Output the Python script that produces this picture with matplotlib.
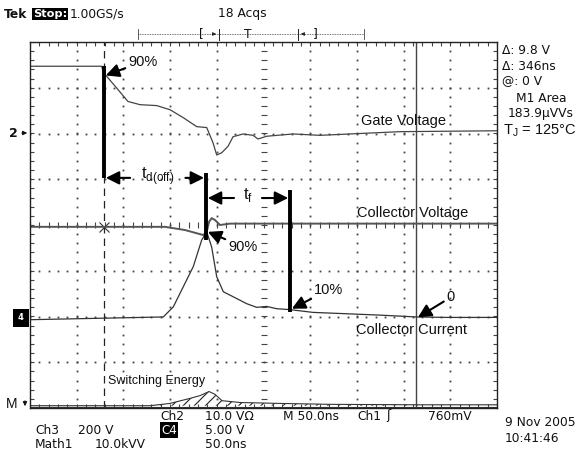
import numpy as np
import matplotlib
matplotlib.use("Agg")
import matplotlib.pyplot as plt

plt.rcParams['hatch.linewidth'] = 0.8

W, H = 577, 455

# ---- traces: time in ns (50 ns/div), level in divisions ----
gate_t = [0, 76.8, 78.2, 82.1, 94.2, 104.9, 117.8, 135.7, 149.9, 163.8, 178.5,
          189.2, 195.9, 199.9, 205.3, 212.0, 217.4, 228.1, 238.8, 244.1, 253.4,
          281.6, 310.5, 353.3, 396.2, 450.0, 500]
gate_v = [3.47, 3.47, 3.35, 3.25, 2.96, 2.70, 2.63, 2.61, 2.52, 2.35, 2.15,
          2.13, 1.80, 1.53, 1.58, 1.72, 1.93, 1.99, 1.96, 1.88, 1.94,
          1.99, 1.96, 2.00, 2.04, 2.05, 2.06]

vce_t = [0, 144.5, 166.0, 185.6, 189.2, 191.7, 194.5, 198.0, 203.4, 214.1, 500]
vce_v = [-0.04, -0.04, -0.11, -0.22, -0.15, 0.07, 0.15, 0.11, 0.0, 0.03, 0.03]

ic_t = [0, 142.7, 153.4, 164.1, 174.8, 183.8, 189.2, 194.5, 199.9, 207.0, 217.7,
        232.0, 242.7, 253.4, 264.1, 278.4, 303.0, 339.1, 374.7, 414.0, 446.2, 500]
ic_v = [-2.07, -2.01, -1.79, -1.35, -0.91, -0.33, -0.15, -0.48, -1.13, -1.46, -1.57,
        -1.72, -1.80, -1.78, -1.83, -1.85, -1.91, -1.94, -1.97, -2.01, -2.02, -2.02]

en_t = [0, 128.5, 149.9, 171.3, 182.0, 191.7, 198.0, 205.6, 224.8, 267.7, 321.2, 417.6, 500]
en_v = [-3.95, -3.95, -3.90, -3.79, -3.73, -3.64, -3.70, -3.84, -3.88, -3.90, -3.92, -3.93, -3.93]
en_base = -3.95

# cursors / measurement points (ns)
cursor_dash = 79.2
cursor_solid = 413.3
t_gate90 = 79.2
t_vce90 = 188.4
t_ic10 = 278.4


def fx(x):
    return x / W


def fy(y):
    return 1 - y / H


fig = plt.figure(figsize=(W / 100, H / 100), dpi=100)
ax = fig.add_axes([fx(30), fy(408), (497 - 30) / W, (408 - 42) / H])
ax.set_xlim(0, 500)
ax.set_ylim(-4, 4)
ax.set_xticks([])
ax.set_yticks([])
for s in ax.spines.values():
    s.set_linewidth(1.0)
    s.set_color('#222')

# ---- graticule ----
gc = '#444444'
ys = np.arange(-4, 4.01, 0.2)
xs = np.arange(0, 500.1, 10)
for k in range(1, 10):
    if k != 5:
        ax.plot(np.full_like(ys, 50 * k), ys, ls='none', marker='s', ms=1.3, color=gc, mew=0)
for k in range(-3, 4):
    if k != 0:
        ax.plot(xs, np.full_like(xs, k), ls='none', marker='s', ms=1.3, color=gc, mew=0)
ax.plot(xs, np.zeros_like(xs), ls='none', marker='|', ms=4, mew=0.8, color=gc)
ax.plot(np.full_like(ys, 250), ys, ls='none', marker='_', ms=4, mew=0.8, color=gc)
ax.plot(xs, np.full_like(xs, 4), ls='none', marker='|', ms=6, mew=0.8, color=gc)
ax.plot(xs, np.full_like(xs, -4), ls='none', marker='|', ms=6, mew=0.8, color=gc)
ax.plot(np.zeros_like(ys), ys, ls='none', marker='_', ms=6, mew=0.8, color=gc)
ax.plot(np.full_like(ys, 500), ys, ls='none', marker='_', ms=6, mew=0.8, color=gc)

# cursors
ax.axvline(cursor_dash, color='#222', lw=0.9, ls=(0, (6, 4)))
ax.axvline(cursor_solid, color='#444', lw=1.0)
ax.plot([cursor_dash], [-0.04], marker='x', ms=7, color='#333', mew=0.8)

# ---- traces ----
ax.plot(gate_t, gate_v, color='#444', lw=0.9)
ax.plot(vce_t, vce_v, color='#555', lw=1.4)
ax.plot(ic_t, ic_v, color='#333', lw=0.9)
ax.plot(en_t, en_v, color='#333', lw=0.8)
ax.axhline(en_base - 0.02, color='#333', lw=0.8)
en_t_a = np.array(en_t)
en_v_a = np.array(en_v)
ax.fill_between(en_t_a, en_base, en_v_a, where=(en_t_a > 125) & (en_t_a < 420),
                facecolor='none', edgecolor='#222', hatch='///', lw=0)

# ---- measurement markers ----
ax.plot([t_gate90, t_gate90], [3.48, 1.03], color='k', lw=2.8, solid_capstyle='butt')
ax.plot([t_vce90, t_vce90], [1.14, -0.33], color='k', lw=2.8, solid_capstyle='butt')
ax.plot([t_ic10, t_ic10], [0.77, -1.91], color='k', lw=2.8, solid_capstyle='butt')

arr = dict(arrowstyle='-|>', color='k', lw=1.5, mutation_scale=20, shrinkA=0, shrinkB=0)
lab = dict(family='Liberation Sans', fontsize=10.5, color='#111')

ax.annotate('', xy=(t_gate90 + 2, 1.03), xytext=(t_gate90 + 28, 1.03), arrowprops=arr)
ax.annotate('', xy=(t_vce90 - 2, 1.03), xytext=(t_vce90 - 22, 1.03), arrowprops=arr)
ax.text(137, 1.07, r't$_{\mathregular{d(off)}}$', ha='center', va='center',
        family='Liberation Sans', fontsize=12, color='#111')

ax.annotate('', xy=(t_vce90 + 2, 0.59), xytext=(t_vce90 + 30, 0.59), arrowprops=arr)
ax.annotate('', xy=(t_ic10 - 2, 0.59), xytext=(t_ic10 - 30, 0.59), arrowprops=arr)
ax.text(233, 0.66, r't$_{\mathregular{f}}$', ha='center', va='center',
        family='Liberation Sans', fontsize=12, color='#111')

ax.annotate('90%', xy=(t_gate90 + 2, 3.27), xytext=(105, 3.57), ha='left', va='center',
            arrowprops=arr, **lab)
ax.annotate('90%', xy=(t_vce90 + 2, -0.15), xytext=(212, -0.47), ha='left', va='center',
            arrowprops=arr, **lab)
ax.annotate('10%', xy=(t_ic10 + 2, -1.83), xytext=(304, -1.42), ha='left', va='center',
            arrowprops=arr, **lab)
ax.annotate('0', xy=(cursor_solid + 2, -2.02), xytext=(446, -1.58), ha='left', va='center',
            arrowprops=arr, **lab)

ax.text(400, 2.28, 'Gate Voltage', ha='center', va='center', **lab)
ax.text(410, 0.26, 'Collector Voltage', ha='center', va='center', **lab)
ax.text(408, -2.30, 'Collector Current', ha='center', va='center', **lab)
ax.text(136, -3.42, 'Switching Energy', ha='center', va='center',
        family='Liberation Sans', fontsize=9, color='#111')

# ---- scope readouts ----
tek = dict(family='DejaVu Sans', fontsize=8.8, color='#111')
fig.text(fx(4), fy(14), 'Tek', va='center', fontweight='bold', **tek)
fig.text(fx(33), fy(14), 'Stop:', va='center', fontweight='bold', color='white',
         family='DejaVu Sans', fontsize=8.2,
         bbox=dict(facecolor='black', edgecolor='none', pad=0.8))
fig.text(fx(70), fy(14), '1.00GS/s', va='center', **tek)
fig.text(fx(218), fy(14), '18 Acqs', va='center', **tek)

# header trigger bar
hx = fig.add_axes([0, 0, 1, 1], facecolor='none')
hx.set_xlim(0, W)
hx.set_ylim(H, 0)
hx.axis('off')
hx.plot([138, 364], [34, 34], color='#444', lw=0.6, ls=(0, (1, 1)))
hx.plot([138, 138], [29, 39], color='#444', lw=0.6)
hx.plot([364, 364], [29, 39], color='#444', lw=0.6)
hx.text(201, 34, '[', ha='center', va='center', **tek)
hx.text(315, 34, ']', ha='center', va='center', **tek)
hx.text(248, 34, 'T', ha='center', va='center', **tek)
hx.annotate('', xy=(219, 34), xytext=(211, 34),
            arrowprops=dict(arrowstyle='-|>', color='#222', lw=0.6, mutation_scale=5))
hx.plot([219, 219], [29, 40], color='#222', lw=0.7)
hx.annotate('', xy=(298, 34), xytext=(306, 34),
            arrowprops=dict(arrowstyle='-|>', color='#222', lw=0.6, mutation_scale=5))
hx.plot([298, 298], [29, 40], color='#222', lw=0.7)

# left channel markers
fig.text(fx(13), fy(133), '2', va='center', ha='center', fontweight='bold',
         family='DejaVu Sans', fontsize=9, color='#111')
hx.annotate('', xy=(30, 133), xytext=(19, 133),
            arrowprops=dict(arrowstyle='-|>', color='#111', lw=0.8, mutation_scale=6))
fig.text(fx(21), fy(318), '4', va='center', ha='center', color='white',
         family='DejaVu Sans', fontsize=6, fontweight='bold',
         bbox=dict(facecolor='black', edgecolor='none', pad=3.5))
fig.text(fx(12), fy(404), 'M', va='center', ha='center', family='Liberation Sans',
         fontsize=10, color='#111')
hx.annotate('', xy=(25, 409), xytext=(25, 398),
            arrowprops=dict(arrowstyle='-|>', color='#111', lw=0.8, mutation_scale=6))

# right readouts
fig.text(fx(502), fy(50), 'Δ: 9.8 V', va='center', **tek)
fig.text(fx(502), fy(66), 'Δ: 346ns', va='center', **tek)
fig.text(fx(502), fy(81), '@: 0 V', va='center', **tek)
fig.text(fx(541), fy(98), 'M1 Area', va='center', ha='center', **tek)
fig.text(fx(541), fy(113), '183.9μVVs', va='center', ha='center', **tek)
fig.text(fx(540), fy(131), r'T$_{\mathregular{J}}$ = 125°C', va='center', ha='center',
         family='Liberation Sans', fontsize=10.5, color='#111')

# bottom readouts
fig.text(fx(160), fy(416), 'Ch2', va='center', **tek)
fig.text(fx(205), fy(416), '10.0 VΩ', va='center', **tek)
fig.text(fx(283), fy(416), 'M 50.0ns', va='center', **tek)
fig.text(fx(357), fy(416), 'Ch1', va='center', **tek)
fig.text(fx(386), fy(416), 'ʃ', va='center', **tek)
fig.text(fx(428), fy(416), '760mV', va='center', **tek)
fig.text(fx(505), fy(423), '9 Nov 2005', va='center', **tek)
fig.text(fx(505), fy(438), '10:41:46', va='center', **tek)
fig.text(fx(35), fy(430), 'Ch3', va='center', **tek)
fig.text(fx(78), fy(430), '200 V', va='center', **tek)
fig.text(fx(161), fy(430), 'C4', va='center', color='white', family='DejaVu Sans',
         fontsize=8.6, bbox=dict(facecolor='black', edgecolor='none', pad=0.8))
fig.text(fx(205), fy(430), '5.00 V', va='center', **tek)
fig.text(fx(35), fy(444), 'Math1', va='center', **tek)
fig.text(fx(95), fy(444), '10.0kVV', va='center', **tek)
fig.text(fx(205), fy(444), '50.0ns', va='center', **tek)

fig.savefig('out.png', dpi=100)
